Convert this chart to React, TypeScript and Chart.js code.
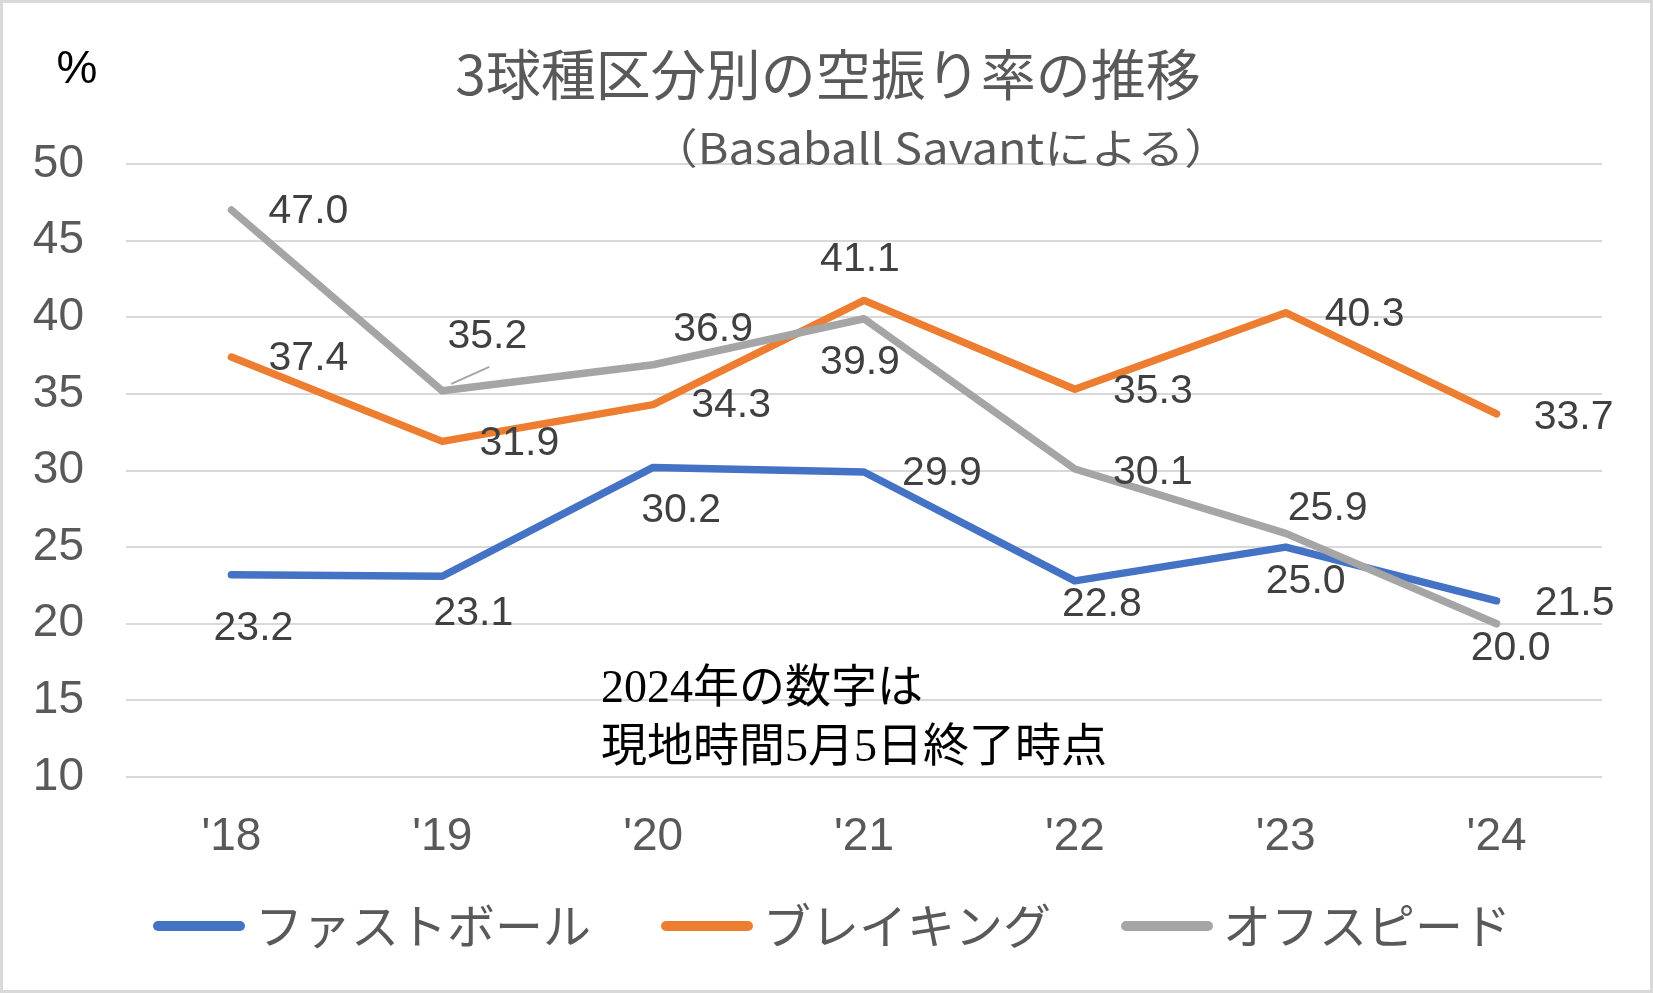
import React, { useEffect, useRef } from "react";
import { Chart, registerables } from "chart.js";

Chart.register(...registerables);

// ---- data ----
const categories = ["'18", "'19", "'20", "'21", "'22", "'23", "'24"];
const fastball = [23.2, 23.1, 30.2, 29.9, 22.8, 25.0, 21.5];
const breaking = [37.4, 31.9, 34.3, 41.1, 35.3, 40.3, 33.7];
const offspeed = [47.0, 35.2, 36.9, 39.9, 30.1, 25.9, 20.0];
const seriesNames = ["ファストボール", "ブレイキング", "オフスピード"];
const yMin = 10;
const yMax = 50;
const yStep = 5;
const titleText = "3球種区分別の空振り率の推移";
const subtitleText = "（Basaball Savantによる）";
const unitText = "%";
const noteLines = ["2024年の数字は", "現地時間5月5日終了時点"];

// ---- styles / label placement (pixel offsets from each point) ----
const colors = ["#4472c4", "#ed7d31", "#a5a5a5"];
const labelOffsets = [
  [[22, 54], [31, 37], [28, 43], [78, 2], [27, 24], [20, 35], [78, 3]],
  [[77, 2], [77, 2], [78, 1], [-4, -41], [78, 2], [79, 2], [77, 4]],
  [[77, 2], [45, -54], [60, -35], [-4, 44], [78, 4], [42, -25], [14, 25]],
];
const leader = { ds: 2, idx: 1, from: [9, -7], to: [47, -24] };

const CJK = "'Noto Sans CJK JP'";
const LATIN = "'Liberation Sans', Arial";

const decorPlugin = {
  id: "decor",
  beforeDraw(chart: any) {
    const { ctx, width, height } = chart;
    ctx.save();
    ctx.fillStyle = "#ffffff";
    ctx.fillRect(0, 0, width, height);
    ctx.strokeStyle = "#d9d9d9";
    ctx.lineWidth = 3;
    ctx.strokeRect(1.5, 1.5, width - 3, height - 3);
    ctx.restore();
  },
  afterDraw(chart: any) {
    const { ctx } = chart;
    ctx.save();
    ctx.textBaseline = "middle";
    // title
    ctx.fillStyle = "#595959";
    ctx.font = `55px ${CJK}`;
    ctx.textAlign = "center";
    ctx.fillText(titleText, 828, 74);
    // unit
    ctx.fillStyle = "#000000";
    ctx.font = `46px ${LATIN}`;
    ctx.fillText(unitText, 77, 70);
    // subtitle (stretched to the reference width)
    ctx.fillStyle = "#595959";
    ctx.font = `42px ${CJK}`;
    const sw = ctx.measureText(subtitleText).width;
    const target = 580;
    ctx.save();
    ctx.translate(941, 148);
    ctx.scale(target / sw, 1);
    ctx.fillText(subtitleText, 0, 0);
    ctx.restore();
    // note
    ctx.fillStyle = "#000000";
    ctx.font = `46px 'Liberation Serif', ${CJK}`;
    ctx.textAlign = "left";
    ctx.fillText(noteLines[0], 601, 690);
    ctx.fillText(noteLines[1], 601, 749);
    // legend
    const swW = 92;
    const swGap = 10;
    const itemGap = 70;
    ctx.font = `48px ${CJK}`;
    const widths = chart.data.datasets.map((ds: any) => ctx.measureText(ds.label).width);
    const total =
      widths.reduce((a: number, w: number) => a + swW + swGap + w, 0) + itemGap * (widths.length - 1);
    let x = 832 - total / 2;
    const ly = 926;
    chart.data.datasets.forEach((ds: any, i: number) => {
      ctx.strokeStyle = ds.borderColor;
      ctx.lineWidth = 10;
      ctx.lineCap = "round";
      ctx.beginPath();
      ctx.moveTo(x + 5, ly);
      ctx.lineTo(x + swW - 5, ly);
      ctx.stroke();
      ctx.fillStyle = "#595959";
      ctx.textAlign = "left";
      ctx.fillText(ds.label, x + swW + swGap, ly);
      x += swW + swGap + widths[i] + itemGap;
    });
    ctx.restore();
  },
  afterDatasetsDraw(chart: any) {
    const { ctx } = chart;
    ctx.save();
    // leader line
    const lp = chart.getDatasetMeta(leader.ds).data[leader.idx];
    ctx.strokeStyle = colors[leader.ds];
    ctx.lineWidth = 2;
    ctx.beginPath();
    ctx.moveTo(lp.x + leader.from[0], lp.y + leader.from[1]);
    ctx.lineTo(lp.x + leader.to[0], lp.y + leader.to[1]);
    ctx.stroke();
    // data labels
    ctx.font = `41px ${LATIN}`;
    ctx.fillStyle = "#404040";
    ctx.textAlign = "center";
    ctx.textBaseline = "middle";
    chart.data.datasets.forEach((ds: any, di: number) => {
      const meta = chart.getDatasetMeta(di);
      meta.data.forEach((pt: any, i: number) => {
        const off = labelOffsets[di][i];
        ctx.fillText(Number(ds.data[i]).toFixed(1), pt.x + off[0], pt.y + off[1]);
      });
    });
    ctx.restore();
  },
};

export default function App() {
  const ref = useRef<HTMLCanvasElement | null>(null);
  useEffect(() => {
    if (!ref.current) return;
    const series = [fastball, breaking, offspeed];
    const chart = new Chart(ref.current, {
      type: "line",
      data: {
        labels: categories,
        datasets: series.map((d, i) => ({
          label: seriesNames[i],
          data: d,
          borderColor: colors[i],
          backgroundColor: colors[i],
          borderWidth: 7.5,
          borderCapStyle: "round",
          borderJoinStyle: "round",
          pointRadius: 0,
          pointHoverRadius: 0,
          tension: 0,
          order: 2 - i,
        })),
      },
      options: {
        responsive: false,
        devicePixelRatio: 1,
        animation: false,
        layout: { padding: { top: 164, left: 0, right: 51, bottom: 116 } },
        plugins: {
          tooltip: { enabled: false },
          title: { display: false },
          legend: { display: false },
        },
        scales: {
          x: {
            type: "category",
            offset: true,
            grid: { display: false, drawTicks: false },
            border: { display: false },
            ticks: {
              color: "#595959",
              font: { family: LATIN, size: 46 },
              padding: 33,
              maxRotation: 0,
            },
            afterFit: (s: any) => {
              s.height = 100;
            },
          },
          y: {
            min: yMin,
            max: yMax,
            grid: { color: "#d9d9d9", lineWidth: 2, drawTicks: false },
            border: { display: false },
            ticks: {
              stepSize: yStep,
              color: "#595959",
              font: { family: LATIN, size: 46 },
              padding: 42,
            },
            afterFit: (s: any) => {
              s.width = 126;
            },
          },
        },
      },
      plugins: [decorPlugin],
    } as any);
    return () => chart.destroy();
  }, []);
  return (
    <div style={{ position: "absolute", left: 0, top: 0, width: 1653, height: 993 }}>
      <canvas ref={ref} width={1653} height={993} style={{ display: "block" }} />
    </div>
  );
}
